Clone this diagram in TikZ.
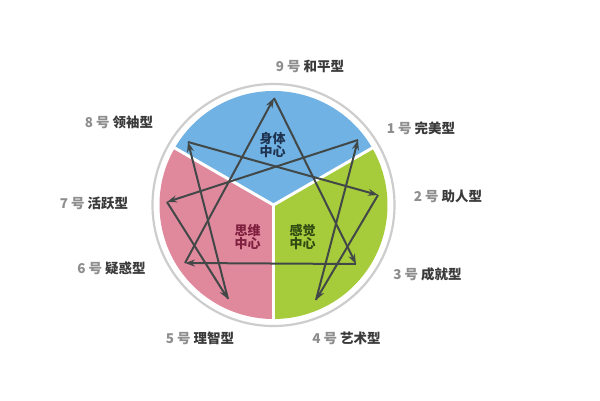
\documentclass[tikz,border=0pt]{standalone}
\usepackage{fontspec}
\newfontfamily\cjk{Noto Sans CJK SC}
\usetikzlibrary{arrows.meta}
\definecolor{bodyblue}{HTML}{70B2E3}
\definecolor{mindpink}{HTML}{E0899D}
\definecolor{feelgreen}{HTML}{A7CC3B}
\definecolor{ringgray}{HTML}{CDCDCD}
\definecolor{linegray}{HTML}{424848}
\definecolor{numgray}{HTML}{8E8E8E}
\definecolor{namegray}{HTML}{3A3A3A}
\definecolor{bodytext}{HTML}{1E3350}
\definecolor{mindtext}{HTML}{7E1F3F}
\definecolor{feeltext}{HTML}{2F4A12}

\begin{document}
\begin{tikzpicture}[x=1pt,y=1pt,
  arr/.style={line width=2pt, draw=linegray, -{Stealth[length=10pt,width=7pt]}},
  typelabel/.style={font=\cjk\bfseries\fontsize{13.5}{15}\selectfont, text=namegray, inner sep=0pt},
  centrelabel/.style={font=\cjk\bfseries\fontsize{13}{13.5}\selectfont, align=center, inner sep=0pt}]
\useasboundingbox (0,0) rectangle (600,400);
\fill[white] (0,0) rectangle (600,400);
\coordinate (O) at (273.5,195);
% ring and three centres
\draw[ringgray, line width=2.2pt] (O) circle (121);
\fill[bodyblue] (O) -- ++(30:114) arc (30:150:114) -- cycle;
\fill[mindpink] (O) -- ++(150:114) arc (150:270:114) -- cycle;
\fill[feelgreen] (O) -- ++(270:114) arc (270:390:114) -- cycle;
\draw[white, line width=3pt] (O) -- ++(30:115);
\draw[white, line width=3pt] (O) -- ++(150:115);
\draw[white, line width=3pt] (O) -- ++(270:115);
\node (body) [centrelabel, text=bodytext] at (272.5,255) {身体\\中心};
\node (mind) [centrelabel, text=mindtext] at (247.5,163) {思维\\中心};
\node (feel) [centrelabel, text=feeltext] at (302.5,163) {感觉\\中心};
% points of the figure
\coordinate (p9) at (274,302);
\coordinate (p1) at (358,260);
\coordinate (p2) at (378,205);
\coordinate (p3) at (356,136);
\coordinate (p4) at (316,100);
\coordinate (p5) at (228,101);
\coordinate (p6) at (185,137);
\coordinate (p7) at (167,198);
\coordinate (p8) at (188,258);
% triangle
\draw[arr] (p6) -- (p9);
\draw[arr] (p9) -- (p3);
\draw[arr] (p3) -- (p6);
% hexad
\draw[arr] (p1) -- (p7);
\draw[arr] (p7) -- (p5);
\draw[arr] (p5) -- (p8);
\draw[arr] (p8) -- (p2);
\draw[arr] (p2) -- (p4);
\draw[arr] (p4) -- (p1);
% types
\node (l9) [typelabel] at (310,334) {{\color{numgray}9 号} 和平型};
\node (l8) [typelabel] at (119,278) {{\color{numgray}8 号} 领袖型};
\node (l1) [typelabel] at (421,272) {{\color{numgray}1 号} 完美型};
\node (l2) [typelabel] at (448,204) {{\color{numgray}2 号} 助人型};
\node (l7) [typelabel] at (94,197) {{\color{numgray}7 号} 活跃型};
\node (l6) [typelabel] at (111.5,132) {{\color{numgray}6 号} 疑惑型};
\node (l3) [typelabel] at (427.5,126) {{\color{numgray}3 号} 成就型};
\node (l5) [typelabel] at (200,62) {{\color{numgray}5 号} 理智型};
\node (l4) [typelabel] at (346.5,62) {{\color{numgray}4 号} 艺术型};
\end{tikzpicture}
\end{document}
